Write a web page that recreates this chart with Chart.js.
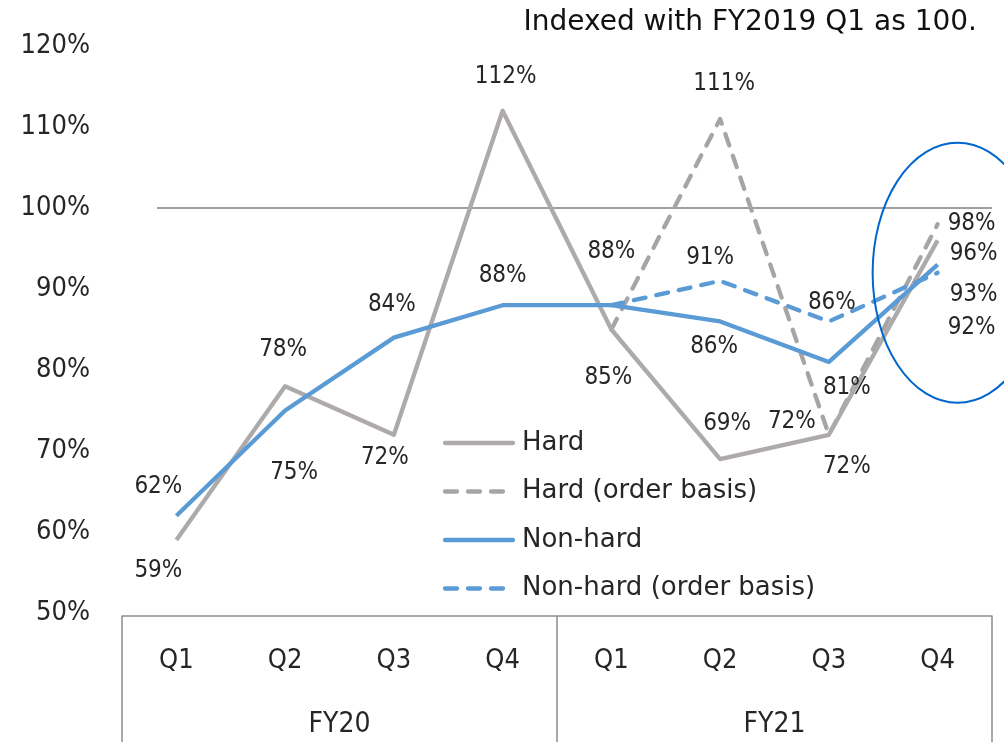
<!DOCTYPE html>
<html>
<head>
<meta charset="utf-8">
<script src="https://cdn.jsdelivr.net/npm/chart.js@4.4.1/dist/chart.umd.min.js"></script>
<style>
  html, body { margin: 0; padding: 0; background: #fff; }
  canvas { display: block; }
</style>
</head>
<body>
<canvas id="myChart" width="1004" height="742"></canvas>
<script>
// chart data
const QUARTERS = ['Q1', 'Q2', 'Q3', 'Q4', 'Q1', 'Q2', 'Q3', 'Q4'];
const FISCAL_YEARS = ['FY20', 'FY21'];
const HARD = [59, 78, 72, 112, 85, 69, 72, 96];
const HARD_ORDER = [null, null, null, null, 85, 111, 72, 98];
const NON_HARD = [62, 75, 84, 88, 88, 86, 81, 93];
const NON_HARD_ORDER = [null, null, null, null, 88, 91, 86, 92];
const Y_MIN = 50;
const Y_MAX = 120;
const Y_STEP = 10;
const BASE_LINE = 100;
const NOTE = 'Indexed with FY2019 Q1 as 100.';

const COND = '"DejaVu Sans Condensed", "DejaVu Sans", sans-serif';
const WIDE = '"DejaVu Sans", sans-serif';
const TEXT = '#262626';
const GRAY = '#aeaaaa';
const GRAY_DASH = '#a5a5a5';
const BLUE = '#5b9bd5';

// where each value label sits, relative to its point (null = no label)
const LABEL_OFFSETS = [
  [[-18, 31], [-2, -36], [-9, 23], [3, -34], [-3, 48], [7, -35], [18, 32], [36, 13]],
  [null, null, null, null, null, [4, -35], [-37, -13], [34, 0]],
  [[-18, -29], [9, 62], [-2, -33], [0, -29], [0, -53], [-6, 25], [18, 26], [36, 30]],
  [null, null, null, null, null, [-10, -23], [3, -19], [34, 55]]
];

let ctx = document.getElementById('myChart').getContext('2d');

const extras = {
  id: 'extras',
  beforeDatasetsDraw(chart) {
    const { ctx, chartArea, scales } = chart;
    const y = scales.y.getPixelForValue(BASE_LINE);
    ctx.save();
    ctx.strokeStyle = '#7f7f7f';
    ctx.lineWidth = 1.5;
    ctx.beginPath();
    ctx.moveTo(chartArea.left + 35, y);
    ctx.lineTo(chartArea.right, y);
    ctx.stroke();
    ctx.restore();
  },
  afterDatasetsDraw(chart) {
    const { ctx, chartArea, scales } = chart;
    const x = scales.x, y = scales.y;
    ctx.save();

    // value labels
    ctx.font = '24px ' + COND;
    ctx.fillStyle = TEXT;
    ctx.textAlign = 'center';
    ctx.textBaseline = 'middle';
    chart.data.datasets.forEach((ds, di) => {
      ds.data.forEach((v, i) => {
        const off = LABEL_OFFSETS[di][i];
        if (v == null || !off) return;
        ctx.fillText(v + '%', x.getPixelForValue(i) + off[0], y.getPixelForValue(v) + off[1]);
      });
    });

    // legend inside the plot
    const lx = chartArea.left + 321;
    let ly = chartArea.top + 397;
    ctx.font = '26px ' + WIDE;
    chart.data.datasets.forEach(ds => {
      ctx.strokeStyle = ds.borderColor;
      ctx.lineWidth = ds.borderWidth;
      ctx.lineCap = 'round';
      ctx.setLineDash(ds.borderDash || []);
      ctx.beginPath();
      ctx.moveTo(lx + 2, ly);
      ctx.lineTo(lx + 70, ly);
      ctx.stroke();
      ctx.setLineDash([]);
      ctx.textAlign = 'left';
      ctx.fillStyle = TEXT;
      ctx.fillText(ds.label, lx + 79, ly);
      ly += 48.5;
    });

    // ellipse around the last quarter
    ctx.strokeStyle = '#0066cc';
    ctx.lineWidth = 2;
    ctx.beginPath();
    ctx.ellipse(x.getPixelForValue(7) + 20, y.getPixelForValue(92), 85, 130, 0, 0, Math.PI * 2);
    ctx.stroke();

    // note in the top right
    ctx.font = '28px ' + WIDE;
    ctx.fillStyle = '#111';
    ctx.textAlign = 'right';
    ctx.fillText(NOTE, 977, 23);

    // category table
    const top = chartArea.bottom + 3;
    const bottom = chart.height;
    const mid = (x.getPixelForValue(3) + x.getPixelForValue(4)) / 2;
    ctx.strokeStyle = '#8c8c8c';
    ctx.lineWidth = 1.5;
    ctx.beginPath();
    ctx.moveTo(chartArea.left, top);
    ctx.lineTo(chartArea.right, top);
    [chartArea.left, mid, chartArea.right].forEach(px => {
      ctx.moveTo(px, top);
      ctx.lineTo(px, bottom);
    });
    ctx.stroke();

    ctx.font = '28px ' + COND;
    ctx.fillStyle = TEXT;
    ctx.textAlign = 'center';
    ctx.fillText(FISCAL_YEARS[0], (chartArea.left + mid) / 2, 725);
    ctx.fillText(FISCAL_YEARS[1], (mid + chartArea.right) / 2, 725);
    ctx.restore();
  }
};

let chart = new Chart(ctx, {
  type: 'line',
  data: {
    labels: QUARTERS,
    datasets: [
      { label: 'Hard', data: HARD, borderColor: GRAY, borderWidth: 4.3, order: 2 },
      { label: 'Hard (order basis)', data: HARD_ORDER, borderColor: GRAY_DASH, borderWidth: 4.3,
        borderDash: [12, 11], borderCapStyle: 'round', order: 3 },
      { label: 'Non-hard', data: NON_HARD, borderColor: BLUE, borderWidth: 4.3, order: 0 },
      { label: 'Non-hard (order basis)', data: NON_HARD_ORDER, borderColor: BLUE, borderWidth: 4.3,
        borderDash: [12, 11], borderCapStyle: 'round', order: 1 }
    ]
  },
  options: {
    responsive: false,
    animation: false,
    devicePixelRatio: 1,
    layout: { padding: { top: 46, right: 12, left: 0, bottom: 0 } },
    elements: { point: { radius: 0 }, line: { tension: 0, borderJoinStyle: 'round' } },
    plugins: { legend: { display: false }, tooltip: { enabled: false } },
    scales: {
      x: {
        offset: true,
        grid: { display: false },
        border: { display: false },
        ticks: { color: TEXT, font: { family: COND, size: 27 }, padding: 24, maxRotation: 0 },
        afterFit(scale) { scale.height = 129; }
      },
      y: {
        min: Y_MIN,
        max: Y_MAX,
        grid: { display: false },
        border: { display: false },
        ticks: { stepSize: Y_STEP, color: TEXT, font: { family: COND, size: 27 }, padding: 24,
                 callback: v => v + '%' },
        afterFit(scale) { scale.width = 122; }
      }
    }
  },
  plugins: [extras]
});
</script>
</body>
</html>
